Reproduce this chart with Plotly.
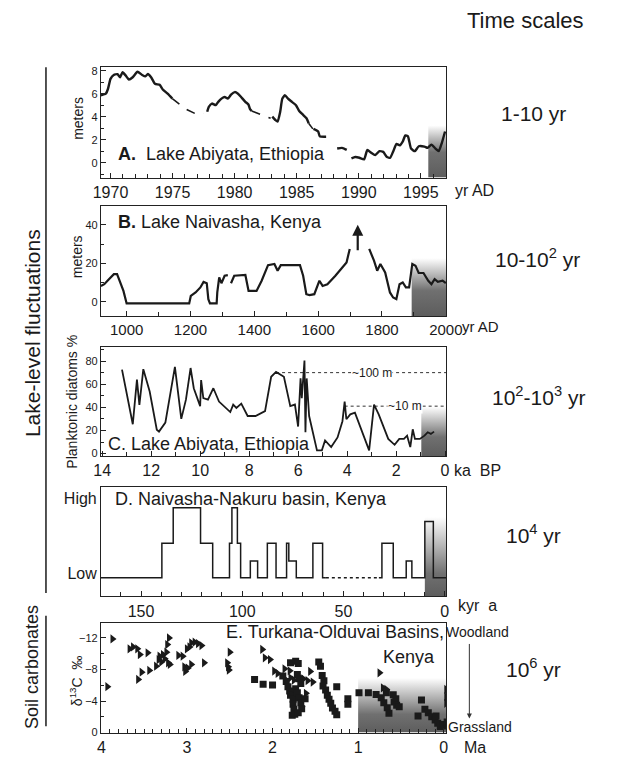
import plotly.graph_objects as go

W, H = 618, 763
FONT = "Arial, Liberation Sans, sans-serif"
INK = "#1a1a1a"

# ---------------- Panel A: Lake Abiyata (1-10 yr) ----------------
a_year_solid = [1969.23, 1969.62, 1969.8, 1970.0, 1970.26, 1970.56, 1970.77, 1970.97, 1971.23, 1971.48,
                1971.79, 1972.17, 1972.55, 1972.81, 1973.01, 1973.27, 1973.58, 1973.96, 1974.21, 1974.6,
                1974.98, None,
                1977.79, 1977.92, 1978.17, 1978.48, 1978.68, 1978.94, 1979.2, 1979.45, 1979.71, 1980.01,
                1980.27, 1980.52, 1980.86, 1981.11, 1981.24, 1981.37, None,
                1983.03, 1983.28, 1983.46, 1983.67, 1983.84, 1984.05, 1984.3, 1984.61, 1984.94, 1985.2,
                1985.53, 1985.79, 1985.96, None,
                1986.35, 1986.73, 1986.86, 1987.37, None,
                1988.26, 1988.65, 1989.03, None,
                1989.41, 1989.72, 1990.05, 1990.43, 1990.69, 1991.0, 1991.33, 1991.66, 1991.97, 1992.27,
                1992.53, 1992.78, 1993.04, 1993.3, 1993.55, 1993.75, 1993.96, 1994.21, 1994.52, 1994.83,
                1995.29, 1995.54, 1995.85, 1996.18, 1996.44, 1996.69, 1996.95]
a_level_solid = [5.86, 6.0, 6.43, 7.29, 7.63, 7.69, 7.43, 7.86, 7.57, 7.23,
                 7.43, 7.91, 7.63, 7.51, 7.71, 7.43, 6.86, 6.77, 6.37, 6.0,
                 5.57, None,
                 4.43, 4.86, 5.14, 5.0, 5.29, 5.57, 5.71, 5.57, 5.91, 6.14,
                 6.0, 5.71, 5.29, 5.06, 4.66, 4.49, None,
                 4.0, 3.71, 3.57, 4.43, 5.57, 5.86, 5.57, 5.29, 5.0, 4.49,
                 4.14, 3.86, 3.43, None,
                 2.94, 2.71, 2.29, 2.26, None,
                 1.23, 1.29, 1.11, None,
                 0.37, 0.49, 0.43, 0.29, 1.11, 0.86, 0.66, 1.0, 0.94, 0.49,
                 0.43, 1.0, 1.63, 1.51, 1.86, 2.37, 2.29, 1.23, 1.0, 1.43,
                 1.4, 1.29, 1.57, 1.23, 1.0, 1.71, 2.71]
a_year_dash = [1974.98, 1976.0, 1977.06, 1977.46, None, 1981.37, 1982.26, 1982.9, None, 1985.96, 1986.3]
a_level_dash = [5.57, 4.7, 4.14, 4.29, None, 4.49, 4.14, 3.86, None, 3.43, 2.94]

# ---------------- Panel B: Lake Naivasha (10-100 yr) ----------------
b_year = [919.5, 930, 940, 950, 960, 970, 980, 990, 1000, 1196, 1201, 1216, 1231, 1241, 1251, 1256,
          1261, 1282, 1284, 1290, 1297, 1307, 1317, None, 1327, 1337, 1372, 1382, 1407, 1423, 1443,
          1463, 1473, 1483, 1543, 1553, 1563, 1573, 1588, 1604, 1614, 1629, 1654, 1674, 1689, 1699,
          None, 1760, 1775, 1785, 1795, 1810, 1825, 1835, 1845, 1855, 1865, 1875, 1885, 1895, 1905,
          1915, 1930, 1945, 1955, 1965, 1975, 1990, 2000]
b_level = [8.3, 9.2, 11, 12.7, 14.4, 14.4, 10, 5.7, -0.8, -0.8, 3.1, 4.9, 7.5, 10.4, 9.7, 1.4,
           -0.8, -0.8, 4.9, 12.7, 9.7, 13.6, 13.9, None, 9.7, 13.6, 14, 5.7, 5.7, 11, 19.1,
           19.7, 16.2, 19.1, 19.1, 13.6, 4, 3.5, 4, 11, 8.3, 9.2, 13.6, 17.9, 20.5, 27.5,
           None, 27.5, 21.4, 16.2, 19.7, 15.3, 4.9, 2.3, 1.4, 9.2, 10.1, 7.5, 7.5, 19.7, 18.8,
           15, 15, 11, 9.2, 11.8, 10.4, 11, 9.7]

# ---------------- Panel C: Lake Abiyata diatoms (100-1000 yr) ----------------
c_ka = [13.19, 12.75, 12.58, 12.48, 12.32, 12.06, 11.77, 11.68, 11.42, 11.03, 10.77, 10.58, 10.39,
        10.26, 10.0, 9.96, 9.87, 9.68, 9.46, 9.23, 8.77, 8.65, 8.52, 8.32, 8.06, 7.74, 7.35, 7.10,
        6.90, 6.58, 6.32, 6.13, 6.00, 5.90, 5.85, 5.74, 5.70, 5.65, 5.55, 5.23, 5.03, 4.90, 4.65,
        4.39, 4.19, 4.10, 4.03, 3.87, 3.68, 3.10, 2.90, 2.71, 2.32, 2.06, 1.87, 1.68, 1.55, 1.42,
        1.32, 1.23, 1.03, 0.84, 0.71, 0.58, 0.45]
c_pct = [72.6, 25.4, 64, 42, 73, 53.7, 20.6, 19, 26.8, 75, 30, 46.6, 74,
         56.5, 41, 63.6, 48, 46.6, 56.5, 45, 35.9, 42.4, 39.5, 43.2, 32.5, 32.5, 36.7, 66.4,
         70.6, 66.4, 41, 42.4, 23.4, 65, 48, 80.5, 18.4, 65, 32.5, 2.8, 2.8, 11.3, 5.6,
         14, 28, 45, 29.7, 33.9, 35.3, 2.8, 42.4, 33.9, 12.7, 7.6, 12.7, 12.7, 15.5, 5.6,
         21, 12.7, 12.7, 15.5, 18.4, 17, 19]
c_ref_levels = [70, 41]          # ~100 m and ~10 m levels
c_ref_start = [6.9, 4.1]
c_ref_labels = ["~100 m", "~10 m"]
c_ref_label_ka = [3.0, 1.65]

# ---------------- Panel D: Naivasha-Nakuru basin (10^4 yr) ----------------
d_kyr_1 = [169.8, 139.7, 134.1, 120.6, 114.6, 106.3, 105.1, 102.4, 100.8, 96.0, 92.4, 87.6, 83.3,
           78.1, 77.0, 73.3, 65.1, 60.3, 58.7]
d_lvl_1 = [0, 35, 71, 35, 0, 35, 71, 35, 0, 17, 0, 35, 0, 35, 17, 0, 35, 0, 0]
d_kyr_gap = [58.7, 32.5]
d_lvl_gap = [0, 0]
d_kyr_2 = [32.5, 31.0, 25.4, 19.0, 16.2, 9.8, 5.6, -0.8]
d_lvl_2 = [0, 35, 0, 17, 0, 57, 0, 0]
d_tick_vals = [80.7, 4.2]
d_tick_text = ["High", "Low"]

# ---------------- Panel E: Turkana-Olduvai soil carbonates (10^6 yr) ----------------
e_tri_ma = [3.87, 3.93, 3.67, 3.63, 3.58, 3.55, 3.57, 3.53, 3.46, 3.44, 3.36, 3.33, 3.32, 3.30,
            3.28, 3.26, 3.24, 3.22, 3.21, 3.23, 3.20, 3.10, 3.05, 3.03, 3.02, 2.99, 3.00, 2.97,
            2.95, 2.91, 2.87, 2.83, 2.95, 2.80, 2.53, 2.52, 2.51, 2.50, 2.12, 2.09, 2.03, 1.98,
            1.94, 1.86, 1.80, 1.85, 1.79, 1.75, 1.70, 1.64, 1.59, 1.53, 1.66, 1.61, 1.56, 0.75,
            0.71, 0.67, -0.03, -0.03, -0.03]
e_tri_d13c = [-11.87, -5.81, -10.61, -10.86, -10.61, -9.89, -6.74, -7.66, -10.11, -7.87, -8.42,
              -9.26, -9.68, -8.93, -9.89, -9.35, -10.19, -8.84, -12.0, -11.16, -8.63, -9.77, -9.68,
              -8.34, -7.75, -8.17, -10.61, -10.86, -11.37, -11.45, -11.28, -11.03, -8.63, -8.84,
              -8.84, -8.34, -7.92, -10.19, -10.53, -9.47, -9.26, -7.79, -7.49, -8.08, -7.83, -6.74,
              -6.95, -6.65, -7.07, -6.82, -6.57, -6.40, -3.28, -4.97, -7.75, -7.58, -5.68, -5.47,
              -5.47, -4.55, -3.71]
e_sq_ma = [2.21, 2.11, 2.00, 1.88, 1.84, 1.82, 1.80, 1.79, 1.76, 1.76, 1.75, 1.74, 1.79, 1.73,
           1.70, 1.71, 1.69, 1.67, 1.73, 1.71, 1.69, 1.67, 1.66, 1.77, 1.70, 1.62, 1.46, 1.44,
           1.42, 1.40, 1.41, 1.38, 1.36, 1.34, 1.32, 1.30, 1.27, 1.25, 1.25, 1.12, 1.12, 0.99,
           0.88, 0.79, 0.73, 0.70, 0.66, 0.64, 0.67, 0.59, 0.56, 0.58, 0.55, 0.52, 0.30, 0.26,
           0.22, 0.18, 0.14, 0.10, 0.09, 0.07, 0.04, 0.01, -0.04, -0.04]
e_sq_d13c = [-6.74, -6.11, -6.02, -7.16, -6.48, -5.81, -5.26, -4.72, -4.21, -3.58, -2.95, -2.32,
             -8.84, -9.05, -8.76, -7.37, -6.82, -6.23, -5.56, -5.05, -4.42, -3.79, -3.03, -2.19,
             -2.53, -4.29, -8.93, -8.42, -7.24, -6.57, -5.89, -5.39, -4.72, -4.21, -3.71, -3.12,
             -2.69, -5.81, -2.27, -4.29, -3.58, -5.05, -5.05, -4.84, -4.42, -3.79, -3.16, -2.44,
             -5.05, -4.80, -4.29, -3.87, -3.45, -3.28, -2.11, -4.13, -2.95, -2.53, -2.02, -1.60,
             -2.11, -1.18, -0.76, -1.01, -0.84, -1.35]

# ---------------- shaded "recent" windows: (x0, x1, y_bottom, y_top, dark fraction) ----------------
shade = {
    1: (1995.6, 1997.1, -1.3, 3.3, 0.5),
    2: (1893, 2002, -7.3, 23, 0.45),
    3: (0.97, -0.1, -2, 41, 0.4),
    4: (9.8, -1.0, -18.8, 62, 0.3),
    5: (1.0, -0.1, 0, -7.0, 0.35),
}

# ---------------- layout geometry (pixels) ----------------
X_LEFT, X_RIGHT = 96.7, 456
panel_px = {1: (65, 176.7), 2: (205, 316.7), 3: (348.3, 458.3), 4: (489.3, 600.5), 5: (627.3, 738.3)}


def px(x):
    return x / W


def py(y):
    return 1 - y / H


fig = go.Figure()

# shading first
for i, (x0, x1, yb, yt, frac) in shade.items():
    fig.add_trace(go.Scatter(
        x=[x0, x1, x1, x0, x0], y=[yb, yb, yt, yt, yb],
        xaxis=f"x{i}", yaxis=f"y{i}", mode="lines", line=dict(width=0),
        fill="toself", hoverinfo="skip", showlegend=False,
        fillgradient=dict(type="vertical", start=yb, stop=yt,
                          colorscale=[[0, "rgb(92,92,92)"], [frac, "rgb(112,112,112)"],
                                      [1, "rgb(255,255,255)"]]),
    ))

# Panel A
fig.add_trace(go.Scatter(x=a_year_solid, y=a_level_solid, xaxis="x1", yaxis="y1", mode="lines",
                         line=dict(color=INK, width=2.4, shape="spline", smoothing=0.5),
                         connectgaps=False, showlegend=False))
fig.add_trace(go.Scatter(x=a_year_dash, y=a_level_dash, xaxis="x1", yaxis="y1", mode="lines",
                         line=dict(color=INK, width=1.6, dash="dash"), showlegend=False))

# Panel B
fig.add_trace(go.Scatter(x=b_year, y=b_level, xaxis="x2", yaxis="y2", mode="lines",
                         line=dict(color=INK, width=2.2), connectgaps=False, showlegend=False))

# Panel C reference dotted lines
for lvl, st in zip(c_ref_levels, c_ref_start):
    fig.add_trace(go.Scatter(x=[st, -0.1], y=[lvl, lvl], xaxis="x3", yaxis="y3", mode="lines",
                             line=dict(color="#333", width=1, dash="dot"), showlegend=False))
fig.add_trace(go.Scatter(x=c_ka, y=c_pct, xaxis="x3", yaxis="y3", mode="lines",
                         line=dict(color=INK, width=1.8), showlegend=False))

# Panel D
fig.add_trace(go.Scatter(x=d_kyr_1, y=d_lvl_1, xaxis="x4", yaxis="y4", mode="lines",
                         line=dict(color=INK, width=1.5, shape="hv"), showlegend=False))
fig.add_trace(go.Scatter(x=d_kyr_gap, y=d_lvl_gap, xaxis="x4", yaxis="y4", mode="lines",
                         line=dict(color=INK, width=1.5, dash="dot"), showlegend=False))
fig.add_trace(go.Scatter(x=d_kyr_2, y=d_lvl_2, xaxis="x4", yaxis="y4", mode="lines",
                         line=dict(color=INK, width=1.5, shape="hv"), showlegend=False))

# Panel E
fig.add_trace(go.Scatter(x=e_tri_ma, y=e_tri_d13c, xaxis="x5", yaxis="y5", mode="markers",
                         marker=dict(symbol="triangle-right", size=8, color=INK), showlegend=False))
fig.add_trace(go.Scatter(x=e_sq_ma, y=e_sq_d13c, xaxis="x5", yaxis="y5", mode="markers",
                         marker=dict(symbol="square", size=7, color=INK), showlegend=False))

# ---------------- axes ----------------
x_specs = {
    1: dict(range=[1969.23, 1997.05], tick0=1970, dtick=5, minor_dtick=1, fs=16),
    2: dict(range=[919.5, 2001.5], tick0=1000, dtick=200, minor_dtick=100, fs=15),
    3: dict(range=[14.05, -0.05], tick0=0, dtick=2, minor_dtick=1, fs=16),
    4: dict(range=[169.8, -0.8], tick0=0, dtick=50, minor_dtick=10, fs=16),
    5: dict(range=[4.005, -0.03], tick0=0, dtick=1, minor_dtick=0.1, fs=16),
}
y_specs = {
    1: dict(range=[-1.3, 8.3], tick0=0, dtick=2, minor_dtick=1),
    2: dict(range=[-7.3, 50], tick0=0, dtick=20, minor_dtick=10),
    3: dict(range=[-2, 92], tick0=0, dtick=20, minor_dtick=10),
    4: dict(range=[-18.8, 92.4]),
    5: dict(range=[0, -13.9], tick0=0, dtick=4, minor_dtick=2),
}

layout_axes = {}
for i in range(1, 6):
    y0, y1 = panel_px[i]
    xs = x_specs[i]
    layout_axes[f"xaxis{i}"] = dict(
        domain=[px(X_LEFT), px(X_RIGHT)], anchor=f"y{i}", range=xs["range"],
        showline=True, mirror=True, linecolor="#222", linewidth=1,
        ticks="inside", ticklen=5, tickcolor="#222", tickmode="linear",
        tick0=xs["tick0"], dtick=xs["dtick"],
        tickfont=dict(family=FONT, size=xs["fs"], color="#1a1a1a"),
        minor=dict(ticks="inside", ticklen=4, dtick=xs["minor_dtick"], tickcolor="#222"),
        showgrid=False, zeroline=False, fixedrange=True,
    )
    ys = y_specs[i]
    yax = dict(
        domain=[py(y1), py(y0)], anchor=f"x{i}", range=ys["range"],
        showline=True, mirror=True, linecolor="#222", linewidth=1,
        showgrid=False, zeroline=False, fixedrange=True,
        tickfont=dict(family=FONT, size=11, color="#1a1a1a"),
    )
    if i == 4:
        yax.update(tickmode="array", tickvals=d_tick_vals, ticktext=d_tick_text, ticks="",
                   tickfont=dict(family=FONT, size=16, color="#1a1a1a"))
    else:
        yax.update(ticks="inside", ticklen=5, tickcolor="#222", tickmode="linear",
                   tick0=ys["tick0"], dtick=ys["dtick"],
                   minor=dict(ticks="inside", ticklen=3, dtick=ys["minor_dtick"], tickcolor="#222"))
    layout_axes[f"yaxis{i}"] = yax

annotations = []


def note(text, x, y, size, xanchor="center", angle=0, **kw):
    annotations.append(dict(text=text, x=px(x), y=py(y), xref="paper", yref="paper",
                            showarrow=False, xanchor=xanchor, yanchor="middle", textangle=angle,
                            font=dict(family=FONT, size=size, color="#1a1a1a"), **kw))


# right column
note("Time scales", 538, 18, 22)
note("1-10 yr", 547, 112, 21)
note("10-10<sup>2</sup> yr", 551, 258, 21)
note("10<sup>2</sup>-10<sup>3</sup> yr", 552, 398, 21)
note("10<sup>4</sup> yr", 547, 537, 21)
note("10<sup>6</sup> yr", 547, 673, 21)

# axis unit labels
note("yr AD", 485, 190, 16)
note("yr AD", 492, 327, 15)
note("ka  BP", 488, 473, 16)
note("kyr  a", 488, 610, 16)
note("Ma", 486, 753, 16)
note("Woodland", 488, 637, 14)
note("Grassland", 491, 733, 14)
annotations.append(dict(x=px(480), y=py(724), xref="paper", yref="paper", ax=0, ay=-76,
                        text="", showarrow=True, arrowhead=2, arrowsize=1, arrowwidth=1,
                        arrowcolor="#333"))

# left labels
note("Lake-level fluctuations", 25, 334, 21, angle=-90)
note("Soil carbonates", 25, 672, 18, angle=-90)
note("meters", 72, 117, 14, angle=-90)
note("meters", 72, 257, 14, angle=-90)
note("Planktonic diatoms %", 67, 403, 14, angle=-90)
note("δ<sup>13</sup>C  ‰", 71, 686, 14, angle=-90)

# panel titles
note("<b>A.</b>  Lake Abiyata, Ethiopia", 112, 153, 18, xanchor="left")
note("<b>B.</b> Lake Naivasha, Kenya", 112, 222, 18, xanchor="left")
note("C. Lake Abiyata, Ethiopia", 102, 446, 18, xanchor="left")
note("D. Naivasha-Nakuru basin, Kenya", 109, 502, 18, xanchor="left")
note("E. Turkana-Olduvai Basins,", 456, 637, 18, xanchor="right")
note("Kenya", 446, 662, 18, xanchor="right")

# panel C reference labels (data coords, white background to break dotted line)
for lab, ka, lvl in zip(c_ref_labels, c_ref_label_ka, c_ref_levels):
    annotations.append(dict(text=lab, x=ka, y=lvl, xref="x3", yref="y3", showarrow=False,
                            bgcolor="white", borderpad=0,
                            font=dict(family=FONT, size=12, color="#1a1a1a")))

# panel B arrow (data coords)
annotations.append(dict(x=1724, y=40, ax=1724, ay=26, xref="x2", yref="y2", axref="x2", ayref="y2",
                        text="", showarrow=True, arrowhead=2, arrowsize=1, arrowwidth=2.2,
                        arrowcolor=INK))

shapes = [
    dict(type="line", xref="paper", yref="paper", x0=px(39.5), x1=px(39.5), y0=py(65), y1=py(597),
         line=dict(color="#1a1a1a", width=1.5)),
    dict(type="line", xref="paper", yref="paper", x0=px(39.5), x1=px(39.5), y0=py(620), y1=py(732),
         line=dict(color="#1a1a1a", width=1.5)),
]

fig.update_layout(
    width=W, height=H, margin=dict(l=0, r=0, t=0, b=0),
    paper_bgcolor="white", plot_bgcolor="white",
    font=dict(family=FONT, color="#1a1a1a"),
    annotations=annotations, shapes=shapes, showlegend=False,
    **layout_axes,
)

fig.write_html("out.html")
